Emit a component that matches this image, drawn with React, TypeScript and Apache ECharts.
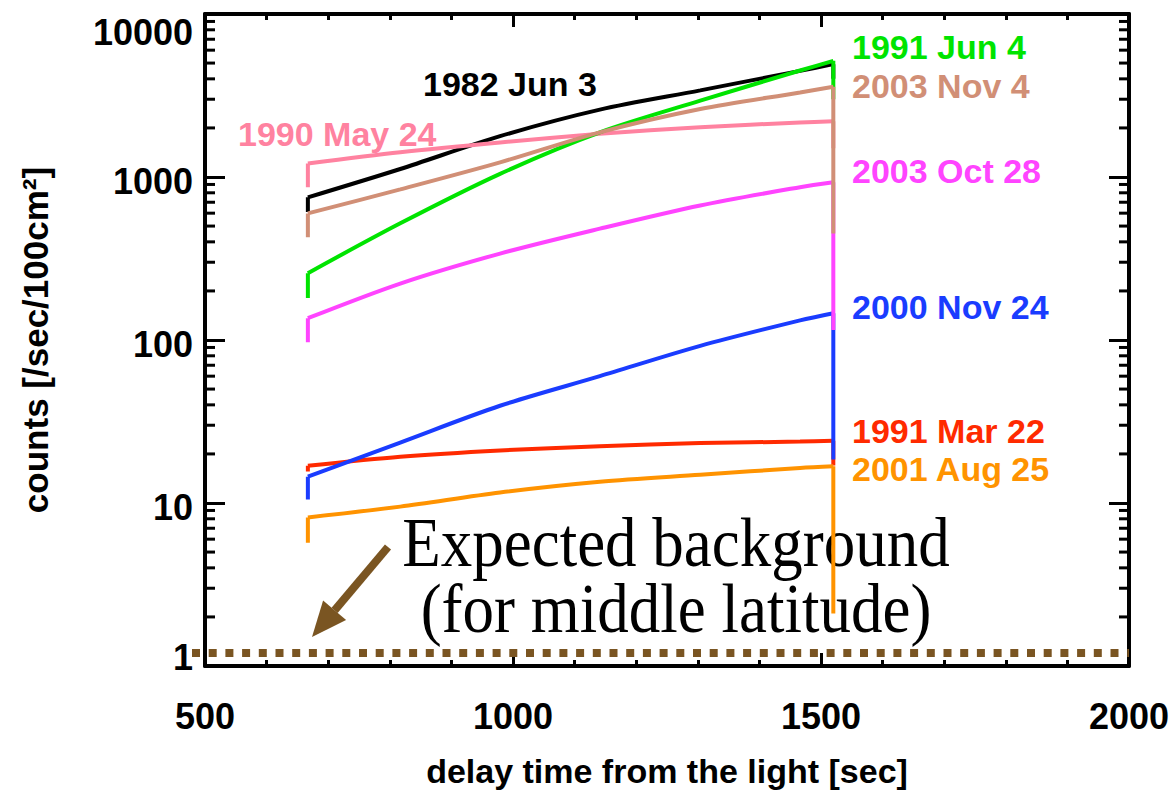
import React, { useEffect, useRef } from "react";
import * as echarts from "echarts";

// Sampling times after the flare light arrives [sec]
const TIME = [667, 817, 979, 1141, 1304, 1466, 1520];

// Counts [/sec/100cm^2] at each TIME, one array per event
const COUNTS_1982_JUN_3 = [750, 1120, 1780, 2590, 3400, 4480, 4925];
const COUNTS_1990_MAY_24 = [1210, 1420, 1630, 1840, 2020, 2160, 2200];
const COUNTS_1991_JUN_4 = [257, 520, 1046, 1880, 2940, 4500, 5160];
const COUNTS_1991_MAR_22 = [16.9, 19.2, 21, 22.3, 23.3, 23.8, 24.1];
const COUNTS_2000_NOV_24 = [14.5, 23.5, 39.5, 60, 92, 132, 146];
const COUNTS_2003_OCT_28 = [136, 222, 339, 482, 669, 866, 929];
const COUNTS_2003_NOV_4 = [598, 840, 1230, 1880, 2613, 3300, 3580];
const COUNTS_2001_AUG_25 = [8.15, 9.5, 11.6, 13.5, 14.9, 16.4, 16.8];

// Level at the first sample before the ramp, and level after the cut-off
const ONSET = [610, 865, 181, 15.6, 10.5, 97, 427, 5.7];
const CUTOFF = [4000, 1500, 3000, 17, 18.5, 115, 450, 2.1];

const EVENT_NAMES = [
  "1982 Jun 3",
  "1990 May 24",
  "1991 Jun 4",
  "1991 Mar 22",
  "2000 Nov 24",
  "2003 Oct 28",
  "2003 Nov 4",
  "2001 Aug 25",
];
const EVENT_COUNTS = [
  COUNTS_1982_JUN_3,
  COUNTS_1990_MAY_24,
  COUNTS_1991_JUN_4,
  COUNTS_1991_MAR_22,
  COUNTS_2000_NOV_24,
  COUNTS_2003_OCT_28,
  COUNTS_2003_NOV_4,
  COUNTS_2001_AUG_25,
];

// Axis ticks
const Y_TICKS = [1, 10, 100, 1000, 10000];
const Y_MINOR_TICKS = [
  2, 3, 4, 5, 6, 7, 8, 9,
  20, 30, 40, 50, 60, 70, 80, 90,
  200, 300, 400, 500, 600, 700, 800, 900,
  2000, 3000, 4000, 5000, 6000, 7000, 8000, 9000,
];

// Expected background count rate (middle latitude)
const BACKGROUND_LEVEL = 1.2;

// Styling
const SANS = '"Liberation Sans", Arial, Helvetica, sans-serif';
const SERIF = '"Liberation Serif", "Times New Roman", serif';
const EVENT_COLORS = [
  "#000000",
  "#ff82a0",
  "#00e400",
  "#ff2a00",
  "#1a3cff",
  "#ff44ff",
  "#d18f76",
  "#ff9300",
];
// Label anchor (left, middle) in pixels for each event name
const EVENT_LABEL_POS = [
  [423, 84],
  [238, 134],
  [852, 47],
  [852, 431],
  [852, 307],
  [852, 171],
  [852, 86],
  [852, 469],
];
const NOTE_COLOR = "#7a5522";

export default function App() {
  const ref = useRef<HTMLDivElement>(null);

  useEffect(() => {
    if (!ref.current) return;
    const chart = echarts.init(ref.current, null, { renderer: "svg" });

    const axisLineStyle = { color: "#000", width: 4 };
    const tickStyle = { color: "#000", width: 3 };

    // Each event: the smooth rise, then its vertical onset/cut-off steps
    const lineSeries: any[] = [];
    EVENT_NAMES.forEach((name, i) => {
      const counts = EVENT_COUNTS[i];
      const color = EVENT_COLORS[i];
      const last = TIME.length - 1;
      lineSeries.push({
        type: "line",
        name,
        data: TIME.map((t, k) => [t, counts[k]]),
        showSymbol: false,
        symbol: "none",
        silent: true,
        smooth: 0.3,
        z: 3,
        lineStyle: { color, width: 4 },
        itemStyle: { color },
      });
      lineSeries.push({
        type: "line",
        name: name + " steps",
        data: [
          [TIME[0], ONSET[i]],
          [TIME[0], counts[0]],
          [TIME[0], "-"],
          [TIME[last], counts[last]],
          [TIME[last], CUTOFF[i]],
        ],
        connectNulls: false,
        showSymbol: false,
        symbol: "none",
        silent: true,
        z: 3,
        lineStyle: { color, width: 4 },
        itemStyle: { color },
      });
    });

    const minorTickSeries = {
      type: "custom",
      xAxisIndex: 0,
      yAxisIndex: 0,
      silent: true,
      z: 4,
      clip: false,
      data: Y_MINOR_TICKS.map((v) => [500, v]),
      renderItem: (params: any, api: any) => {
        const y = api.coord([500, api.value(1)])[1];
        const cs = params.coordSys;
        const x0 = cs.x;
        const x1 = cs.x + cs.width;
        return {
          type: "group",
          children: [
            {
              type: "line",
              shape: { x1: x0, y1: y, x2: x0 + 10, y2: y },
              style: { stroke: "#000", lineWidth: 3 },
            },
            {
              type: "line",
              shape: { x1: x1 - 10, y1: y, x2: x1, y2: y },
              style: { stroke: "#000", lineWidth: 3 },
            },
          ],
        };
      },
    };

    const xAxisBase = {
      type: "value",
      min: 500,
      max: 2000,
      interval: 500,
      axisLine: { show: true, onZero: false, lineStyle: axisLineStyle },
      axisTick: { show: true, inside: true, length: 13, lineStyle: tickStyle },
      minorTick: { show: true, splitNumber: 5, length: 6, lineStyle: tickStyle },
      splitLine: { show: false },
      minorSplitLine: { show: false },
    };
    const yAxisBase = {
      type: "log",
      logBase: 10,
      min: 1,
      max: 10000,
      axisLine: { show: true, onZero: false, lineStyle: axisLineStyle },
      axisTick: { show: true, inside: true, length: 20, lineStyle: tickStyle },
      minorTick: { show: false },
      axisLabel: { show: false },
      splitLine: { show: false },
    };

    chart.setOption({
      animation: false,
      backgroundColor: "#ffffff",
      textStyle: { fontFamily: SANS },
      grid: {
        left: 205,
        right: 46,
        top: 14,
        bottom: 130,
        containLabel: false,
        outerBoundsMode: "none",
      },
      xAxis: [
        {
          ...xAxisBase,
          position: "bottom",
          name: "delay time from the light [sec]",
          nameLocation: "middle",
          nameGap: 88,
          nameTextStyle: {
            fontSize: 34,
            fontWeight: "bold",
            color: "#000",
            fontFamily: SANS,
          },
          axisLabel: {
            show: true,
            margin: 32,
            fontSize: 36,
            fontWeight: "bold",
            color: "#000",
            fontFamily: SANS,
            formatter: (v: number) => String(v),
          },
        },
        {
          ...xAxisBase,
          position: "top",
          axisLabel: { show: false },
        },
      ],
      yAxis: [
        {
          ...yAxisBase,
          position: "left",
          name: "counts [/sec/100cm²]",
          nameLocation: "middle",
          nameRotate: 90,
          nameGap: 152,
          nameTextStyle: {
            fontSize: 35,
            fontWeight: "bold",
            color: "#000",
            fontFamily: SANS,
          },
        },
        {
          ...yAxisBase,
          position: "right",
        },
      ],
      series: [...lineSeries, minorTickSeries],
    });

    const px = (v: number) => chart.convertToPixel({ xAxisIndex: 0 }, v) as number;
    const py = (v: number) => chart.convertToPixel({ yAxisIndex: 0 }, v) as number;
    const left = px(500);
    const right = px(2000);

    const yLabels = Y_TICKS.map((v) => {
      const shift = v === 10000 ? 18 : v === 1 ? -9 : 4;
      return {
        type: "text",
        x: left - 12,
        y: py(v) + shift,
        z: 5,
        style: {
          text: String(v),
          fill: "#000",
          font: `bold 36px ${SANS}`,
          align: "right",
          textAlign: "right",
          verticalAlign: "middle",
          textVerticalAlign: "middle",
        },
      };
    });

    const eventLabels = EVENT_NAMES.map((name, i) => ({
      type: "text",
      x: EVENT_LABEL_POS[i][0],
      y: EVENT_LABEL_POS[i][1],
      z: 5,
      style: {
        text: name,
        fill: EVENT_COLORS[i],
        font: `bold 34px ${SANS}`,
        lineHeight: 28,
        align: "left",
        textAlign: "left",
        verticalAlign: "middle",
        textVerticalAlign: "middle",
      },
    }));

    const noteLines = ["Expected background", "(for middle latitude)"].map((t, i) => ({
      type: "text",
      x: 676,
      y: 542 + i * 66,
      z: 0,
      scaleY: 1.12,
      style: {
        text: t,
        fill: "#000",
        font: `63px ${SERIF}`,
        lineHeight: 56,
        align: "center",
        textAlign: "center",
        verticalAlign: "middle",
        textVerticalAlign: "middle",
      },
    }));

    const bgY = py(BACKGROUND_LEVEL);

    chart.setOption({
      graphic: {
        elements: [
          ...yLabels,
          ...eventLabels,
          ...noteLines,
          {
            type: "line",
            z: 5,
            shape: { x1: 388, y1: 547, x2: 334.6, y2: 610.3 },
            style: { stroke: NOTE_COLOR, lineWidth: 8, lineCap: "butt" },
          },
          {
            type: "polygon",
            z: 5,
            shape: {
              points: [
                [312, 637],
                [346.1, 620],
                [323.1, 600.6],
              ],
            },
            style: { fill: NOTE_COLOR },
          },
          {
            type: "line",
            z: 5,
            shape: { x1: left - 13, y1: bgY, x2: right, y2: bgY },
            style: {
              stroke: NOTE_COLOR,
              lineWidth: 8,
              lineDash: [8, 8.7],
              lineCap: "butt",
            },
          },
        ],
      },
    });

    return () => chart.dispose();
  }, []);

  return (
    <div
      ref={ref}
      style={{ position: "absolute", left: 0, top: 0, width: 1175, height: 796 }}
    />
  );
}
